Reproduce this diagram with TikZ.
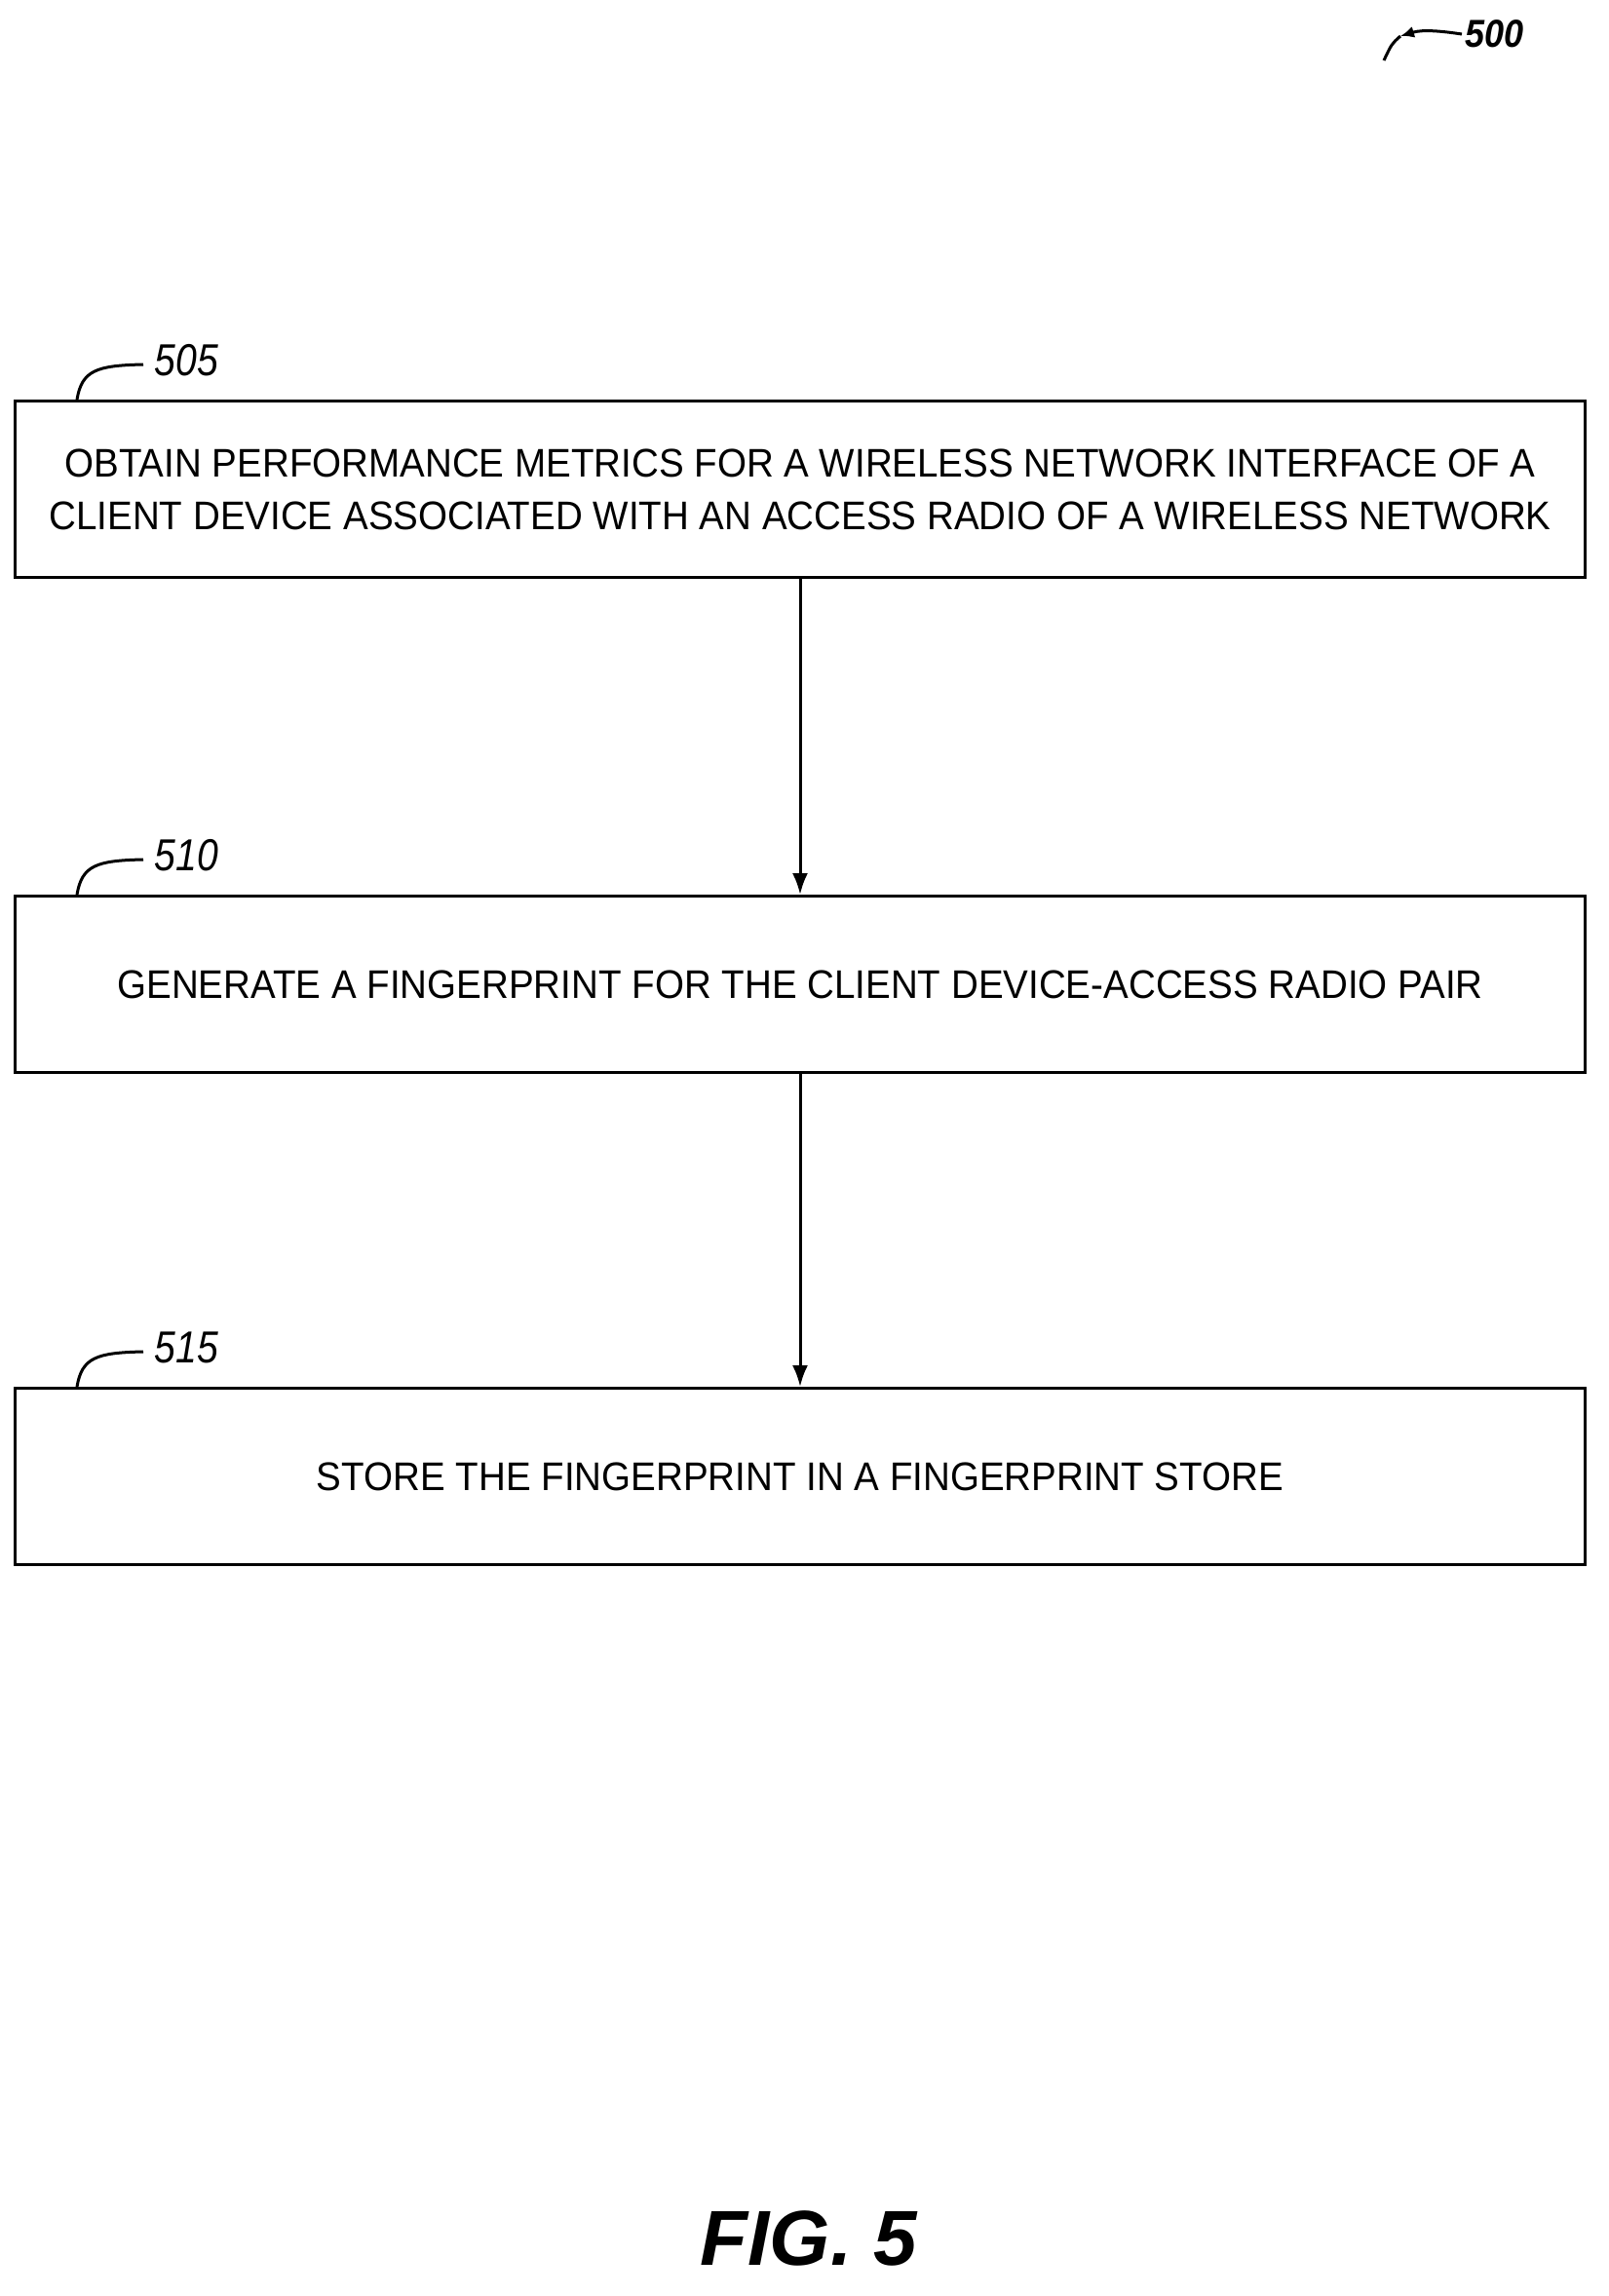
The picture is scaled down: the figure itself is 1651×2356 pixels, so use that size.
\documentclass[tikz,border=0pt]{standalone}
\usepackage{fontspec}
\setmainfont{Liberation Sans}
\usetikzlibrary{arrows.meta}
\begin{document}
\begin{tikzpicture}[x=1pt,y=-1pt,
 box/.style={draw,line width=3pt,minimum width=1611pt,minimum height=181pt,inner sep=0pt,align=center,font=\fontsize{41}{54}\selectfont},
 lbl/.style={font=\fontsize{46}{50}\selectfont\itshape},
 arr/.style={line width=3pt,-{Latex[length=22pt,width=16pt]}}]
\useasboundingbox (0,0) rectangle (1651,2356);
\node[box] (b1) at (821,502) {\scalebox{0.94}[1]{OBTAIN PERFORMANCE METRICS FOR A WIRELESS NETWORK INTERFACE OF A}\\\scalebox{0.94}[1]{CLIENT DEVICE ASSOCIATED WITH AN ACCESS RADIO OF A WIRELESS NETWORK}};
\node[box] (b2) at (821,1010) {\scalebox{0.94}[1]{GENERATE A FINGERPRINT FOR THE CLIENT DEVICE-ACCESS RADIO PAIR}};
\node[box] (b3) at (821,1515) {\scalebox{0.94}[1]{STORE THE FINGERPRINT IN A FINGERPRINT STORE}};
\draw[arr] (b1.south) -- (b2.north);
\draw[arr] (b2.south) -- (b3.north);
\foreach \n/\t in {b1/505,b2/510,b3/515}{
 \coordinate (c\n) at ([xshift=65pt]\n.north west);
 \draw[line width=3pt] (c\n) .. controls ([shift={(5pt,30pt)}]c\n) and ([shift={(20pt,35pt)}]c\n) .. ([shift={(68pt,36pt)}]c\n) coordinate (e\n);
 \node[lbl,anchor=west] (l\n) at ([xshift=8pt,yshift=4pt]e\n) {\scalebox{0.85}[1]{\t}};
}
\coordinate (a0) at (1420,62);
\node[lbl,anchor=west,font=\fontsize{40}{44}\selectfont\itshape] (l500) at (1500,35) {\scalebox{0.9}[1]{\textbf{500}}};
\draw[line width=3pt,{Latex[length=14pt,width=12pt]}-] (1437,37) .. controls (1460,30) and (1480,32) .. (l500.west);
\draw[line width=3pt] (1437,37) .. controls (1428,45) .. (a0);
\node[font=\fontsize{80}{84}\selectfont\bfseries\itshape] (fig) at (830,2297) {FIG. 5};
\end{tikzpicture}
\end{document}
